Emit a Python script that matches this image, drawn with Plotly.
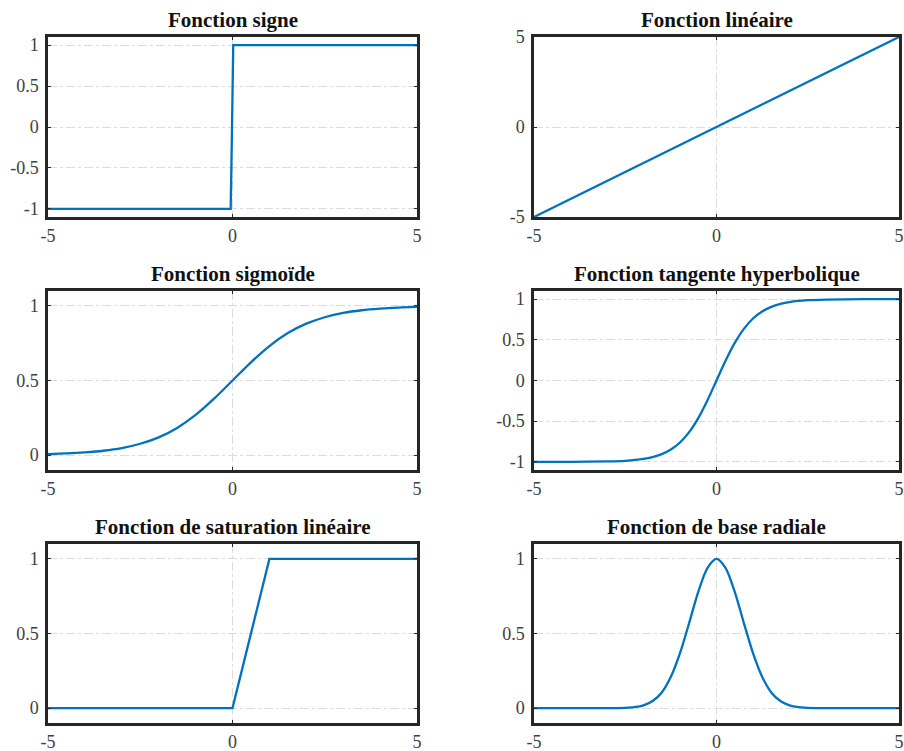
import plotly.graph_objects as go

W, H = 904, 751

# ---- data ----
sign_x = [-5, -0.05, -0.02, 0.0, 0.02, 5]
sign_y = [-1, -1, -0.2, 0.6, 1, 1]

lin_x = [-5, 0, 5]
lin_y = [-5, 0, 5]

sig_x = [-5, -4.5, -4, -3.5, -3, -2.5, -2, -1.5, -1, -0.5, 0, 0.5, 1, 1.5, 2, 2.5, 3, 3.5, 4, 4.5, 5]
sig_y = [0.007, 0.011, 0.018, 0.029, 0.047, 0.076, 0.119, 0.182, 0.269, 0.378, 0.5,
         0.622, 0.731, 0.818, 0.881, 0.924, 0.953, 0.971, 0.982, 0.989, 0.993]

tanh_x = [-5, -4, -3, -2.5, -2, -1.75, -1.5, -1.25, -1, -0.75, -0.5, -0.25, 0,
          0.25, 0.5, 0.75, 1, 1.25, 1.5, 1.75, 2, 2.5, 3, 4, 5]
tanh_y = [-1.0, -0.999, -0.995, -0.987, -0.964, -0.941, -0.905, -0.848, -0.762, -0.635, -0.462, -0.245, 0,
          0.245, 0.462, 0.635, 0.762, 0.848, 0.905, 0.941, 0.964, 0.987, 0.995, 0.999, 1.0]

sat_x = [-5, 0, 1, 5]
sat_y = [0, 0, 1, 1]

rbf_x = [-5, -4, -3, -2.5, -2.25, -2, -1.75, -1.5, -1.25, -1, -0.75, -0.5, -0.25, 0,
         0.25, 0.5, 0.75, 1, 1.25, 1.5, 1.75, 2, 2.25, 2.5, 3, 4, 5]
rbf_y = [0, 0, 0.0001, 0.002, 0.006, 0.018, 0.047, 0.105, 0.21, 0.368, 0.570, 0.779, 0.939, 1.0,
         0.939, 0.779, 0.570, 0.368, 0.21, 0.105, 0.047, 0.018, 0.006, 0.002, 0.0001, 0, 0]

titles = ["Fonction signe", "Fonction linéaire", "Fonction sigmoïde",
          "Fonction tangente hyperbolique", "Fonction de saturation linéaire",
          "Fonction de base radiale"]

x_ticks = [-5, 0, 5]
x_labels = ["-5", "0", "5"]
y_ticks_pm1 = [-1, -0.5, 0, 0.5, 1]
y_labels_pm1 = ["-1", "-0.5", "0", "0.5", "1"]
y_ticks_01 = [0, 0.5, 1]
y_labels_01 = ["0", "0.5", "1"]
y_ticks_lin = [-5, 0, 5]
y_labels_lin = ["-5", "0", "5"]

panels = [
    (sign_x, sign_y, [-1.1, 1.1], y_ticks_pm1, y_labels_pm1, False),
    (lin_x, lin_y, [-5, 5], y_ticks_lin, y_labels_lin, False),
    (sig_x, sig_y, [-0.1, 1.1], y_ticks_01, y_labels_01, True),
    (tanh_x, tanh_y, [-1.1, 1.1], y_ticks_pm1, y_labels_pm1, True),
    (sat_x, sat_y, [-0.1, 1.1], y_ticks_01, y_labels_01, False),
    (rbf_x, rbf_y, [-0.1, 1.1], y_ticks_01, y_labels_01, True),
]

# pixel boxes of plot areas
cols = [(48, 417), (534, 899)]
rows = [(37, 217), (291, 470), (544, 723)]

SERIF = "Liberation Serif, Times New Roman, serif"

fig = go.Figure()
layout = dict(
    width=W, height=H,
    margin=dict(l=0, r=0, t=0, b=0, autoexpand=False),
    paper_bgcolor="white", plot_bgcolor="white",
    showlegend=False,
    font=dict(family=SERIF, size=18, color="#404040"),
)
annotations = []

for i, (xs, ys, yr, yt, yl, smooth) in enumerate(panels):
    r, c = divmod(i, 2)
    x0, x1 = cols[c]
    y0, y1 = rows[r]
    xa = "xaxis" if i == 0 else f"xaxis{i+1}"
    ya = "yaxis" if i == 0 else f"yaxis{i+1}"
    xref = "x" if i == 0 else f"x{i+1}"
    yref = "y" if i == 0 else f"y{i+1}"
    common = dict(
        showline=True, linecolor="#262626", linewidth=2.5, mirror="ticks",
        ticks="inside", ticklen=3, tickwidth=1, tickcolor="#262626",
        showgrid=True, gridcolor="#dcdcdc", gridwidth=1, griddash="dashdot",
        zeroline=False, automargin=False,
        tickfont=dict(family=SERIF, size=18, color="#404040"),
    )
    layout[xa] = dict(domain=[x0 / W, x1 / W], range=[-5, 5], tickvals=x_ticks,
                      ticktext=x_labels, anchor=yref, ticklabelstandoff=1, **common)
    layout[ya] = dict(domain=[1 - y1 / H, 1 - y0 / H], range=yr, tickvals=yt,
                      ticktext=yl, anchor=xref, ticklabelstandoff=3, **common)
    fig.add_trace(go.Scatter(
        x=xs, y=ys, mode="lines", xaxis=xref, yaxis=yref,
        line=dict(color="#0072BD", width=2.3, shape="spline" if smooth else "linear",
                  smoothing=0.8),
        hoverinfo="skip",
    ))
    annotations.append(dict(
        text=f"<b>{titles[i]}</b>", x=(x0 + x1) / 2 / W, y=1 - (y0 - 3) / H,
        xref="paper", yref="paper", xanchor="center", yanchor="bottom",
        showarrow=False, font=dict(size=21, color="#111111", family=SERIF),
    ))

layout["annotations"] = annotations
fig.update_layout(**layout)
fig.write_html("out.html")
